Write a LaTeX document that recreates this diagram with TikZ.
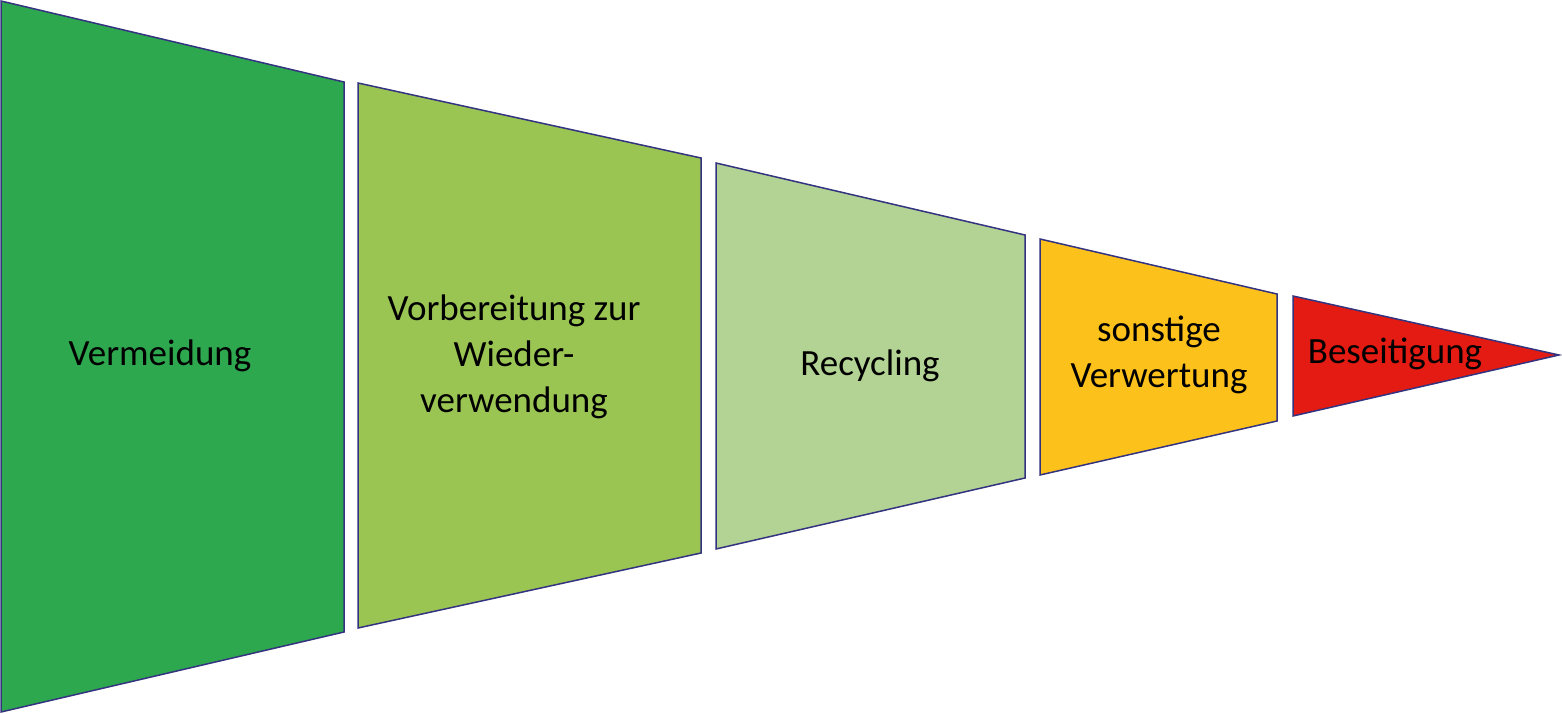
\documentclass[tikz,border=0pt]{standalone}
\usepackage{fontspec}
\setmainfont{Carlito}
\begin{document}
\begin{tikzpicture}[x=1pt,y=-1pt,
  seg/.style={draw=black!50!blue!60!gray, line width=1.5pt, line join=miter},
  lbl/.style={font=\fontsize{37}{46}\selectfont, align=center, text=black}]
\useasboundingbox (0,0) rectangle (1562,714);
\definecolor{c1}{HTML}{2EA84F}
\definecolor{c2}{HTML}{9BC553}
\definecolor{c3}{HTML}{B2D393}
\definecolor{c4}{HTML}{FDC11B}
\definecolor{c5}{HTML}{E31B12}
\filldraw[seg,fill=c1] (1,1) -- (344,82) -- (344,632) -- (1,712) -- cycle;
\filldraw[seg,fill=c2] (358,83) -- (701,158) -- (701,553) -- (358,628) -- cycle;
\filldraw[seg,fill=c3] (716,163) -- (1025,235) -- (1025,478) -- (716,549) -- cycle;
\filldraw[seg,fill=c4] (1040,239) -- (1277,294) -- (1277,421) -- (1040,475) -- cycle;
\filldraw[seg,fill=c5] (1293,296) -- (1559,355) -- (1293,416) -- cycle;
\node[lbl] (t1) at (160,356) {Vermeidung};
\node[lbl] (t2) at (514,357) {Vorbereitung zur\\Wieder-\\verwendung};
\node[lbl] (t3) at (870,366) {Recycling};
\node[lbl] (t4) at (1159,355) {sonstige\\Verwertung};
\node[lbl] (t5) at (1395,354) {Beseitigung};
\end{tikzpicture}
\end{document}
